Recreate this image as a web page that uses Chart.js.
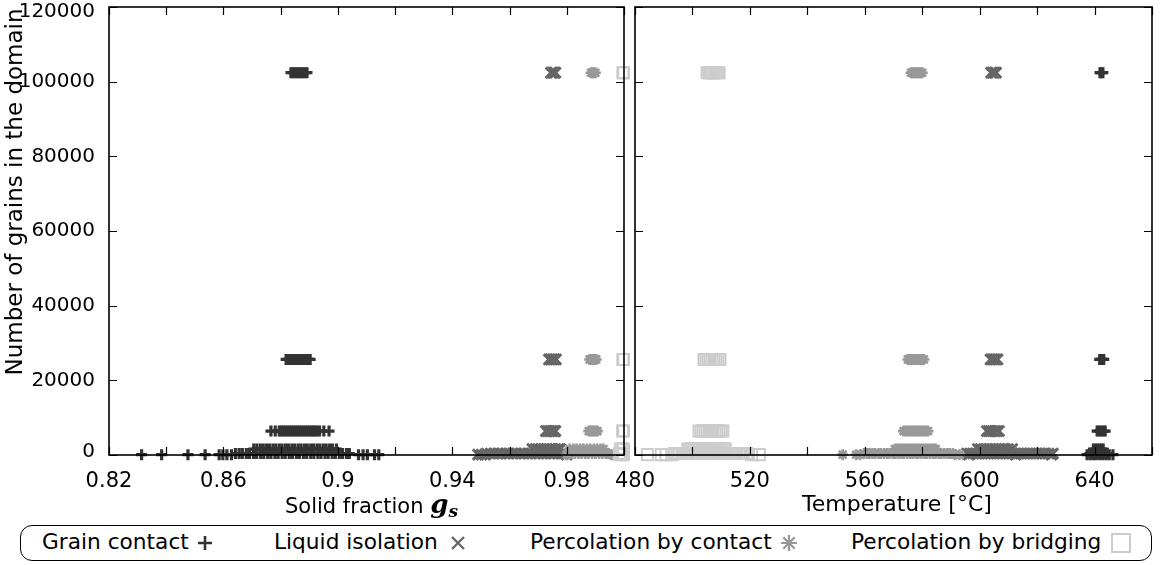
<!DOCTYPE html>
<html><head><meta charset="utf-8">
<script src="https://cdn.jsdelivr.net/npm/chart.js@4.4.1/dist/chart.umd.min.js"></script>
<style>
html,body{margin:0;padding:0;background:#fff;}
body{width:1161px;height:565px;position:relative;overflow:hidden;font-family:'DejaVu Sans',sans-serif;color:#000;}
#w1{position:absolute;left:0;top:0;width:630px;height:500px;}
#w2{position:absolute;left:560px;top:0;width:601px;height:500px;}
.t{position:absolute;white-space:nowrap;line-height:24px;}
.xt{font-size:21px;top:492px;}
#ytitle{font-size:23px;width:420px;text-align:center;left:-196px;top:179.5px;transform:rotate(-90deg);}
.gs{font-family:'DejaVu Serif',serif;font-style:italic;font-weight:bold;}
#legbox{position:absolute;left:20px;top:525px;width:1130px;height:34px;border:1.5px solid #000;border-radius:12px;}
.lt{font-size:21.7px;top:530px;}
.lm{position:absolute;}
</style></head>
<body>
<div id="w1"><canvas id="c1"></canvas></div>
<div id="w2"><canvas id="c2"></canvas></div>
<div class="t" id="ytitle">Number of grains in the domain</div>
<div class="t xt" style="left:285px;">Solid fraction <span class="gs" style="font-size:26px;">g</span><span class="gs" style="font-size:17px;position:relative;top:4px;">s</span></div>
<div class="t xt" style="left:802px;font-size:22px;">Temperature [°C]</div>
<div id="legbox"></div>
<div class="t lt" style="left:42px;">Grain contact</div>
<div class="t lt" style="left:274px;">Liquid isolation</div>
<div class="t lt" style="left:530px;">Percolation by contact</div>
<div class="t lt" style="left:851px;">Percolation by bridging</div>
<svg class="lm" style="left:196px;top:534px" width="18" height="18"><path d="M9 2V16M2 9H16" stroke="#333" stroke-width="2.6"/></svg>
<svg class="lm" style="left:449px;top:534px" width="18" height="18"><path d="M3 3L15 15M15 3L3 15" stroke="#666" stroke-width="2.4"/></svg>
<svg class="lm" style="left:780px;top:534px" width="18" height="18"><path d="M9 1V17M1 9H17M3.3 3.3L14.7 14.7M14.7 3.3L3.3 14.7" stroke="#999" stroke-width="2.2"/></svg>
<svg class="lm" style="left:1110px;top:532px" width="22" height="22"><rect x="2" y="2" width="18" height="18" fill="none" stroke="#ccc" stroke-width="2"/></svg>
<script>
// ---------- data ----------
const grainCounts = [102400, 25600, 6400, 1600, 400, 100];

const gsTicks = [0.82, 0.84, 0.86, 0.88, 0.90, 0.92, 0.94, 0.96, 0.98, 1.00];
const gsTickLabels = ['0.82', '', '0.86', '', '0.9', '', '0.94', '', '0.98', ''];
const tempTicks = [480, 500, 520, 540, 560, 580, 600, 620, 640, 660];
const tempTickLabels = ['480', '', '520', '', '560', '', '600', '', '640', ''];
const yTicks = [0, 20000, 40000, 60000, 80000, 100000, 120000];
const yTickLabels = ['0', '20000', '40000', '60000', '80000', '100000', '120000'];

// solid fraction at each event, one list per grain count (same order as grainCounts)
const grainContactGs = [
  [0.8836, 0.8843, 0.8850, 0.8857, 0.8864, 0.8871, 0.8878, 0.8885, 0.8892],
  [0.8819, 0.8826, 0.8834, 0.8841, 0.8848, 0.8856, 0.8863, 0.8870, 0.8878, 0.8885, 0.8892, 0.8898, 0.8903],
  [0.8766, 0.8781, 0.8795, 0.8802, 0.8809, 0.8816, 0.8823, 0.8830, 0.8837, 0.8844, 0.8851, 0.8858, 0.8865, 0.8872, 0.8879, 0.8886, 0.8893, 0.8900, 0.8907, 0.8914, 0.8921, 0.8928, 0.8936, 0.8951, 0.8969],
  [0.8706, 0.8717, 0.8729, 0.8739, 0.8751, 0.8761, 0.8773, 0.8783, 0.8795, 0.8805, 0.8817, 0.8827, 0.8839, 0.8849, 0.8861, 0.8871, 0.8883, 0.8893, 0.8905, 0.8915, 0.8927, 0.8937, 0.8949, 0.8959, 0.8971, 0.8981, 0.8995],
  [0.8642, 0.8655, 0.8666, 0.8680, 0.8691, 0.8705, 0.8716, 0.8730, 0.8741, 0.8755, 0.8766, 0.8780, 0.8791, 0.8805, 0.8816, 0.8830, 0.8841, 0.8855, 0.8866, 0.8880, 0.8891, 0.8905, 0.8916, 0.8930, 0.8941, 0.8955, 0.8966, 0.8980, 0.8991, 0.9005, 0.9016, 0.9030, 0.9040],
  [0.8314, 0.8384, 0.8476, 0.8536, 0.8585, 0.8598, 0.8612, 0.8628, 0.9072, 0.9088, 0.9103, 0.9128, 0.9143]
];
const liquidIsolationGs = [
  [0.9745, 0.9750, 0.9755, 0.9760],
  [0.9738, 0.9744, 0.9750, 0.9756, 0.9762],
  [0.9727, 0.9733, 0.9739, 0.9745, 0.9751, 0.9757, 0.9760],
  [0.9680, 0.9691, 0.9700, 0.9711, 0.9720, 0.9731, 0.9740, 0.9751, 0.9760, 0.9771, 0.9777],
  [0.9520, 0.9534, 0.9546, 0.9560, 0.9572, 0.9586, 0.9598, 0.9612, 0.9624, 0.9638, 0.9650, 0.9664, 0.9676, 0.9690, 0.9702, 0.9716, 0.9728, 0.9742, 0.9754, 0.9768, 0.9780, 0.9790],
  [0.9490, 0.9502, 0.9514, 0.9800]
];
const percContactGs = [
  [0.9885, 0.9890, 0.9895, 0.9900],
  [0.9880, 0.9886, 0.9892, 0.9898, 0.9903],
  [0.9877, 0.9883, 0.9889, 0.9895, 0.9901, 0.9907],
  [0.9810, 0.9823, 0.9834, 0.9847, 0.9858, 0.9871, 0.9882, 0.9895, 0.9906, 0.9918, 0.9928],
  [0.9805, 0.9817, 0.9828, 0.9841, 0.9852, 0.9865, 0.9876, 0.9889, 0.9900, 0.9913, 0.9924, 0.9937, 0.9946],
  [0.9800, 0.9955, 0.9963]
];
const percBridgingGs = [
  [0.9996, 0.9999],
  [0.9996, 0.9999],
  [0.9995, 0.9999],
  [0.9988, 0.9993, 0.9998],
  [0.9984, 0.9989, 0.9994, 0.9999],
  [0.9986, 0.9997]
];

// temperature [°C] at each event, one list per grain count
const grainContactT = [
  [641.9, 642.4, 642.9],
  [641.8, 642.3, 642.8, 643.2],
  [640.9, 641.6, 642.3, 643.0, 643.7],
  [639.6, 640.3, 641.0, 641.7, 642.4, 643.0],
  [638.4, 639.1, 639.9, 640.6, 641.4, 642.1, 642.9, 643.6, 644.3],
  [637.4, 638.5, 639.6, 640.6, 641.8, 642.9, 644.0, 645.1, 646.4]
];
const liquidIsolationT = [
  [604.0, 604.6, 605.2, 605.7],
  [603.8, 604.4, 605.0, 605.6, 606.2],
  [602.5, 603.2, 603.9, 604.6, 605.3, 606.0, 606.7],
  [599.4, 600.4, 601.5, 602.5, 603.6, 604.6, 605.7, 606.7, 607.8, 608.8, 609.9, 611.3],
  [595.6, 596.8, 597.7, 598.9, 599.8, 600.9, 601.9, 603.0, 603.9, 605.1, 606.0, 607.2, 608.1, 609.3, 610.2, 611.4, 612.3, 613.5, 614.4, 615.6, 616.5, 617.7, 618.6, 619.8, 620.7, 621.9, 622.8, 624.0, 625.5],
  [596.2, 612.5, 625.0]
];
const percContactT = [
  [576.1, 576.6, 577.1, 577.6, 578.1, 578.6, 579.1, 579.6, 580.0],
  [575.0, 575.6, 576.2, 576.8, 577.4, 578.0, 578.6, 579.2, 579.8, 580.6],
  [573.5, 574.2, 574.9, 575.6, 576.3, 577.0, 577.7, 578.4, 579.1, 579.8, 580.5, 581.2, 582.0],
  [570.5, 571.3, 572.1, 572.9, 573.7, 574.5, 575.3, 576.1, 576.9, 577.7, 578.5, 579.3, 580.1, 580.9, 581.7, 582.5, 583.3, 584.1, 584.7],
  [559.7, 560.8, 561.6, 562.7, 563.6, 564.8, 565.6, 566.7, 567.7, 568.6, 569.8, 570.6, 571.7, 572.8, 573.6, 574.7, 575.7, 576.6, 577.8, 578.6, 579.7, 580.8, 581.6, 582.7, 583.7, 584.6, 585.8, 586.6, 587.7, 588.8, 589.6, 590.7],
  [552.3, 557.0, 558.4, 591.5, 593.0]
];
const percBridgingT = [
  [505.1, 505.7, 506.3, 506.9, 507.5, 508.1, 508.7, 509.3],
  [504.0, 504.7, 505.4, 506.1, 506.8, 507.5, 508.2, 508.9, 509.6],
  [502.3, 503.0, 503.7, 504.4, 505.1, 505.8, 506.5, 507.2, 507.9, 508.6, 509.3, 510.0, 510.6],
  [498.4, 499.1, 499.8, 500.5, 501.2, 501.9, 502.6, 503.3, 504.0, 504.7, 505.4, 506.1, 506.8, 507.5, 508.2, 508.9, 509.6, 510.3, 511.0, 511.4],
  [493.8, 494.7, 495.4, 496.3, 497.0, 497.9, 498.6, 499.5, 500.2, 501.1, 501.8, 502.7, 503.4, 504.3, 505.0, 505.9, 506.6, 507.5, 508.2, 509.1, 509.8, 510.7, 511.4, 512.3, 513.0, 513.9, 514.6, 515.5, 516.2, 517.1, 517.8, 518.9],
  [484.3, 489.1, 490.8, 492.9, 520.6, 523.3]
];

// ---------- rendering ----------
Chart.defaults.font.family = "'DejaVu Sans', sans-serif";
Chart.defaults.font.size = 21;
Chart.defaults.color = '#000';

function toPoints(xsByLevel) {
  const pts = [];
  xsByLevel.forEach((xs, i) => xs.forEach(x => pts.push({ x: x, y: grainCounts[i] })));
  return pts;
}

const seriesStyles = [
  { label: 'Grain contact', pointStyle: 'cross', pointRadius: 5.5, pointBorderWidth: 3.2, color: '#333333', order: 3 },
  { label: 'Liquid isolation', pointStyle: 'crossRot', pointRadius: 7.5, pointBorderWidth: 3, color: '#666666', order: 2 },
  { label: 'Percolation by contact', pointStyle: 'star', pointRadius: 5.5, pointBorderWidth: 2.6, color: '#999999', order: 1 },
  { label: 'Percolation by bridging', pointStyle: 'rect', pointRadius: 7.8, pointBorderWidth: 2, color: '#cccccc', order: 0 }
];

function makeDatasets(lists) {
  return lists.map((lst, k) => {
    const s = seriesStyles[k];
    return {
      label: s.label,
      data: toPoints(lst),
      pointStyle: s.pointStyle,
      pointRadius: s.pointRadius,
      pointHoverRadius: s.pointRadius,
      pointBorderWidth: s.pointBorderWidth,
      pointBorderColor: s.color,
      pointBackgroundColor: 'rgba(0,0,0,0)',
      showLine: false,
      clip: false,
      order: s.order
    };
  });
}

const frameTicks = {
  id: 'frameTicks',
  afterDatasetsDraw(chart) {
    const { ctx, chartArea: a, scales } = chart;
    const L = 8;
    ctx.save();
    ctx.strokeStyle = '#000';
    ctx.lineWidth = 1.2;
    ctx.beginPath();
    scales.x.ticks.forEach(t => {
      const px = Math.round(scales.x.getPixelForValue(t.value)) + 0.5;
      ctx.moveTo(px, a.bottom); ctx.lineTo(px, a.bottom - L);
      ctx.moveTo(px, a.top); ctx.lineTo(px, a.top + L);
    });
    scales.y.ticks.forEach(t => {
      const py = Math.round(scales.y.getPixelForValue(t.value)) + 0.5;
      ctx.moveTo(a.left, py); ctx.lineTo(a.left + L, py);
      ctx.moveTo(a.right, py); ctx.lineTo(a.right - L, py);
    });
    ctx.stroke();
    ctx.lineWidth = 1.6;
    ctx.strokeRect(a.left, a.top, a.right - a.left, a.bottom - a.top);
    ctx.restore();
  }
};

// end labels nudged inside the frame (top one down, bottom one up)
const last = yTickLabels.length - 1;
function yLabel(v, i) {
  if (i === last) return ['', yTickLabels[i]];
  if (i === 0) return [yTickLabels[i], ''];
  return yTickLabels[i];
}
function yFont(c) {
  const lh = c.index === last ? 0.45 : (c.index === 0 ? 0.3 : 1.2);
  return { size: 20, lineHeight: lh };
}

function makeChart(canvasId, lists, xMin, xMax, xTicks, xLabels, yWidth, padRight, showY) {
  return new Chart(document.getElementById(canvasId), {
    type: 'scatter',
    data: { datasets: makeDatasets(lists) },
    options: {
      responsive: true, maintainAspectRatio: false, animation: false, devicePixelRatio: 1,
      layout: { autoPadding: false, padding: { top: 7, right: padRight, left: 0, bottom: 0 } },
      plugins: { legend: { display: false }, tooltip: { enabled: false } },
      events: [],
      scales: {
        x: {
          type: 'linear', min: xMin, max: xMax,
          grid: { display: false }, border: { display: false },
          afterBuildTicks: s => { s.ticks = xTicks.map(v => ({ value: v })); },
          ticks: { autoSkip: false, maxRotation: 0, minRotation: 0, padding: 6,
                   callback: (v, i) => xLabels[i] },
          afterFit: s => { s.height = 45; s.paddingLeft = 0; s.paddingRight = 0; }
        },
        y: {
          type: 'linear', min: 0, max: 120000,
          grid: { display: false }, border: { display: false },
          afterBuildTicks: s => { s.ticks = yTicks.map(v => ({ value: v })); },
          ticks: { display: showY, autoSkip: false, padding: 6, font: yFont, callback: yLabel },
          afterFit: s => { s.width = yWidth; s.paddingTop = 0; s.paddingBottom = 0; }
        }
      }
    },
    plugins: [frameTicks]
  });
}

makeChart('c1', [grainContactGs, liquidIsolationGs, percContactGs, percBridgingGs],
  0.82, 1.0, gsTicks, gsTickLabels, 109, 6, true);
makeChart('c2', [grainContactT, liquidIsolationT, percContactT, percBridgingT],
  480, 660, tempTicks, tempTickLabels, 75, 9, false);
</script>
</body></html>
